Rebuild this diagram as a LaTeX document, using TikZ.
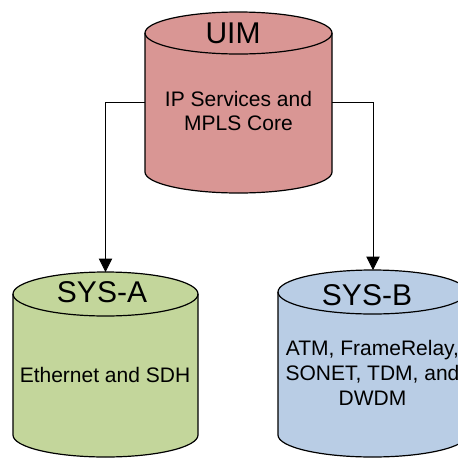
\documentclass[tikz,border=0pt]{standalone}
\usepackage{fontspec}
\setmainfont{Liberation Sans}
\usetikzlibrary{arrows.meta}
\definecolor{uimfill}{RGB}{217,150,148}
\definecolor{sysafill}{RGB}{195,214,155}
\definecolor{sysbfill}{RGB}{185,205,229}

\begin{document}
\begin{tikzpicture}[x=0.75pt,y=0.75pt,yscale=-1,xscale=1,
  can/.style={draw=black,line width=0.9pt},
  title/.style={anchor=base,inner sep=0pt,font=\fontsize{22.5}{27}\selectfont},
  body/.style={inner sep=0pt,align=center,font=\fontsize{15.75}{17.6}\selectfont},
  link/.style={draw=black,line width=0.6pt,-{Triangle[length=10pt,width=10pt]}}]
\useasboundingbox (0,0) rectangle (458,458);
\clip (0,0) rectangle (458,458);

%Shape: Can
\draw [can,fill=uimfill] (145,33) -- (145,172) arc[start angle=180,end angle=0,x radius=93.5,y radius=21] -- (332,33) arc[start angle=0,end angle=-180,x radius=93.5,y radius=21] -- cycle ;
\draw [can] (145,33) arc[start angle=180,end angle=0,x radius=93.5,y radius=21] ;
%Shape: Can
\draw [can,fill=sysafill] (13,294) -- (13,435) arc[start angle=180,end angle=0,x radius=92.5,y radius=22] -- (198,294) arc[start angle=0,end angle=-180,x radius=92.5,y radius=22] -- cycle ;
\draw [can] (13,294) arc[start angle=180,end angle=0,x radius=92.5,y radius=22] ;
%Shape: Can
\draw [can,fill=sysbfill] (278,292) -- (278,435) arc[start angle=180,end angle=0,x radius=94.5,y radius=22] -- (467,292) arc[start angle=0,end angle=-180,x radius=94.5,y radius=22] -- cycle ;
\draw [can] (278,292) arc[start angle=180,end angle=0,x radius=94.5,y radius=22] ;

\coordinate (uimW) at (145,102) ;
\coordinate (uimE) at (332,102) ;
\coordinate (sysaN) at (105.5,272) ;
\coordinate (sysbN) at (373,270) ;

%Connectors
\draw [link] (uimW) -| (sysaN) ;
\draw [link] (uimE) -| (sysbN) ;

% Text Node
\node [title] (uimtitle) at (233,43) {UIM};
% Text Node
\node [body] (uimbody) at (238.5,111) {IP Services and\\MPLS Core};
% Text Node
\node [title] (sysatitle) at (102,302) {SYS-A};
% Text Node
\node [body,anchor=base] (sysabody) at (105,382) {Ethernet and SDH};
% Text Node
\node [title] (sysbtitle) at (367,305) {SYS-B};
% Text Node
\node [body,font=\fontsize{15.75}{19}\selectfont] (sysbbody) at (372.5,373) {ATM, FrameRelay,\\SONET, TDM, and\\DWDM};

\end{tikzpicture}
\end{document}
